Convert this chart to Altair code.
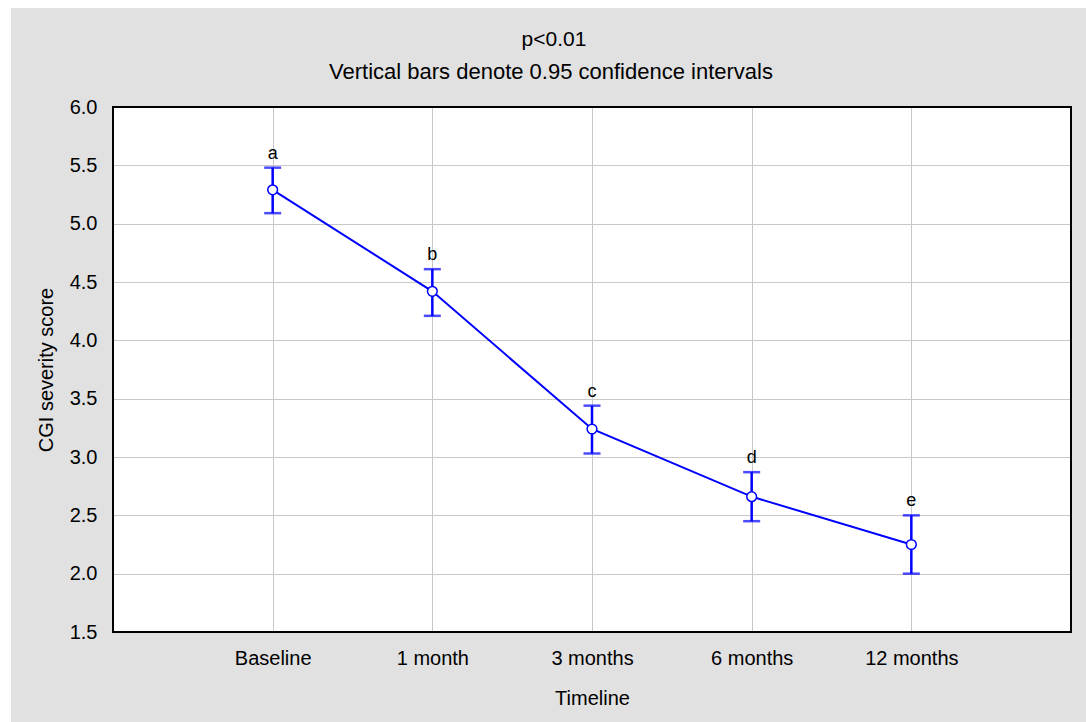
import altair as alt
import pandas as pd

categories = ["Baseline", "1 month", "3 months", "6 months", "12 months"]
means = [5.29, 4.42, 3.24, 2.66, 2.25]
lower = [5.09, 4.21, 3.03, 2.45, 2.00]
upper = [5.48, 4.61, 3.44, 2.87, 2.50]
letters = ["a", "b", "c", "d", "e"]
title_lines = ["p<0.01", "Vertical bars denote 0.95 confidence intervals"]

df = pd.DataFrame({"t": categories, "m": means, "lo": lower, "hi": upper, "lab": letters})

W, H = 958, 525
FONT = "Liberation Sans"
GRAY = "#e1e1e1"
BLUE = "#0000ff"

xs = alt.Scale(type="point", domain=categories, padding=1)
ys = alt.Scale(domain=[1.5, 6.0], nice=False, zero=False)

x_enc = alt.X("t:N", scale=xs, sort=categories,
              axis=alt.Axis(title="Timeline", labelAngle=0, tickSize=0, labelPadding=16,
                            titlePadding=20, grid=True, domain=False))
y_enc = alt.Y("m:Q", scale=ys,
              axis=alt.Axis(title="CGI severity score", values=[1.5, 2, 2.5, 3, 3.5, 4, 4.5, 5, 5.5, 6],
                            format=".1f", tickSize=0, labelPadding=16, titlePadding=13,
                            grid=True, domain=False))

one = pd.DataFrame({"z": [0]})
def strip(x, x2, y, y2, color):
    return alt.Chart(one).mark_rect(color=color).encode(
        x=alt.value(x), x2=alt.value(x2), y=alt.value(y), y2=alt.value(y2))

# white margin at the top-left outside the gray panel
strips = [
    strip(-113, W + 15, -107, -99, "white"),
    strip(-113, -102, -107, H + 90, "white"),
]

titles = [
    alt.Chart(pd.DataFrame({"txt": [title_lines[0]]})).mark_text(
        font=FONT, fontSize=21, color="black", baseline="middle", align="center").encode(
        x=alt.value(441), y=alt.value(-67), text="txt:N"),
    alt.Chart(pd.DataFrame({"txt": [title_lines[1]]})).mark_text(
        font=FONT, fontSize=22, color="black", baseline="middle", align="center").encode(
        x=alt.value(438), y=alt.value(-35), text="txt:N"),
]

base = alt.Chart(df)
line = base.mark_line(color=BLUE, strokeWidth=2).encode(x=x_enc, y=y_enc)
err = base.mark_rule(color=BLUE, strokeWidth=2.5).encode(x=alt.X("t:N", scale=xs, sort=categories),
                                                         y=alt.Y("lo:Q", scale=ys), y2="hi:Q")
cap_lo = base.mark_tick(color=BLUE, orient="horizontal", size=17, thickness=2.5).encode(
    x=alt.X("t:N", scale=xs, sort=categories), y=alt.Y("lo:Q", scale=ys))
cap_hi = base.mark_tick(color=BLUE, orient="horizontal", size=17, thickness=2.5).encode(
    x=alt.X("t:N", scale=xs, sort=categories), y=alt.Y("hi:Q", scale=ys))
pts = base.mark_point(shape="circle", filled=True, fill="white", stroke=BLUE, strokeWidth=1.5,
                      size=95, opacity=1).encode(x=alt.X("t:N", scale=xs, sort=categories),
                                                 y=alt.Y("m:Q", scale=ys))
txt = base.mark_text(baseline="bottom", dy=-5, fontSize=18, font=FONT, color="black").encode(
    x=alt.X("t:N", scale=xs, sort=categories), y=alt.Y("hi:Q", scale=ys), text="lab:N")
frame = alt.Chart(one).mark_rect(filled=False, stroke="black", strokeWidth=2).encode(
    x=alt.value(0), x2=alt.value(W), y=alt.value(0), y2=alt.value(H))

chart = alt.layer(*strips, *titles, line, err, cap_lo, cap_hi, pts, txt, frame).properties(
    width=W, height=H,
    autosize=alt.AutoSizeParams(type="none"),
    padding={"left": 113, "top": 107, "right": 15, "bottom": 90},
    background=GRAY,
).configure_view(fill="white", stroke=None).configure_axis(
    labelFont=FONT, titleFont=FONT, labelFontSize=20, titleFontSize=20, labelColor="black",
    titleColor="black", titleFontWeight="normal", gridColor="#c8c8c8", gridWidth=1,
)

chart.save("out.html", embed_options={"renderer": "svg", "actions": False})
